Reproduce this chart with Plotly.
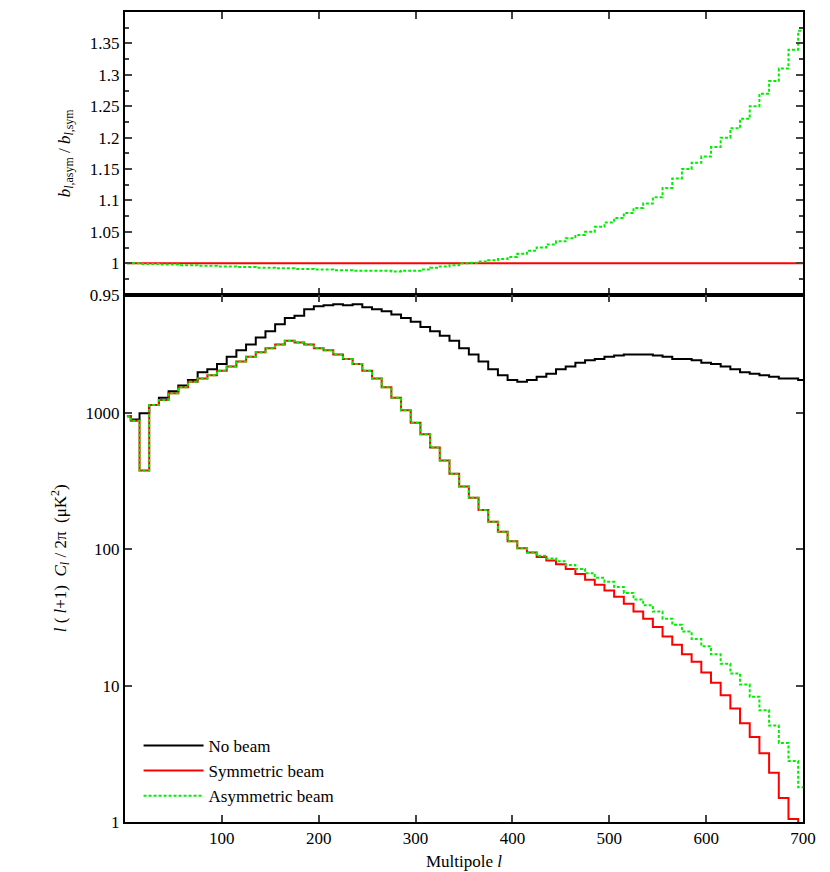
import plotly.graph_objects as go
from plotly.subplots import make_subplots

# multipoles sampled every 10
ell = [2] + list(range(10, 701, 10))

no_beam = [950, 900, 1000, 1150, 1300, 1450, 1600, 1750, 2000, 2100, 2300, 2600, 2900, 3200, 3600,
           4000, 4500, 5000, 5200, 5800, 6100, 6200, 6300, 6200, 6300, 6000, 5800, 5600, 5300, 5000,
           4700, 4300, 4000, 3700, 3400, 3000, 2700, 2400, 2100, 1900, 1750, 1700, 1750, 1850, 1950,
           2100, 2200, 2350, 2450, 2500, 2600, 2650, 2700, 2700, 2700, 2650, 2600, 2500, 2500, 2450,
           2350, 2300, 2200, 2100, 2000, 1950, 1900, 1850, 1800, 1800, 1750]

sym_beam = [950, 880, 380, 1150, 1250, 1400, 1550, 1700, 1800, 1900, 2050, 2200, 2400, 2600, 2800,
            3000, 3200, 3400, 3300, 3200, 3000, 2900, 2700, 2500, 2300, 2050, 1800, 1550, 1300, 1050,
            850, 700, 560, 450, 360, 290, 240, 195, 160, 135, 115, 102, 95, 88, 83,
            78, 72, 66, 60, 55, 50, 45, 40, 35, 31, 27, 23, 20, 17, 15,
            12.5, 10.5, 8.5, 6.8, 5.3, 4.2, 3.2, 2.3, 1.5, 1.05, 0.8]

asym_beam = [950, 880, 380, 1150, 1250, 1400, 1550, 1700, 1800, 1900, 2050, 2200, 2400, 2600, 2800,
             3000, 3200, 3400, 3300, 3200, 3000, 2900, 2700, 2500, 2300, 2050, 1800, 1550, 1300, 1050,
             850, 700, 560, 450, 360, 290, 240, 195, 160, 135, 115, 102, 95, 90, 86,
             82, 77, 72, 67, 62, 58, 53, 48, 43, 39, 35, 31, 28, 25, 22,
             19.5, 17, 14.5, 12.3, 10.2, 8.3, 6.6, 5.1, 3.8, 2.8, 1.8]

ratio = [1.0, 1.0, 0.999, 0.999, 0.998, 0.998, 0.997, 0.997, 0.996, 0.996, 0.995, 0.995, 0.994, 0.994, 0.993,
         0.993, 0.992, 0.992, 0.991, 0.991, 0.99, 0.99, 0.989, 0.989, 0.988, 0.988, 0.988, 0.988, 0.987, 0.988,
         0.988, 0.99, 0.993, 0.995, 0.997, 1.0, 1.001, 1.003, 1.005, 1.007, 1.01, 1.015, 1.02, 1.025, 1.03,
         1.035, 1.04, 1.045, 1.05, 1.058, 1.065, 1.072, 1.08, 1.088, 1.095, 1.105, 1.12, 1.135, 1.15, 1.16,
         1.17, 1.185, 1.2, 1.215, 1.23, 1.25, 1.27, 1.29, 1.31, 1.34, 1.37]
unity = [1.0] * len(ell)

FONT = "Liberation Serif"
FS = 17

fig = make_subplots(rows=2, cols=1, shared_xaxes=True, vertical_spacing=0,
                    row_heights=[0.349, 0.651])

fig.add_trace(go.Scatter(x=ell, y=unity, mode="lines", line=dict(color="#ff0000", width=2),
                         showlegend=False), row=1, col=1)
fig.add_trace(go.Scatter(x=ell, y=ratio, mode="lines", line_shape="hvh",
                         line=dict(color="#00ee00", width=2, dash="3px,2px"),
                         showlegend=False), row=1, col=1)

fig.add_trace(go.Scatter(x=ell, y=no_beam, name="No beam", mode="lines", line_shape="hvh",
                         line=dict(color="black", width=2)), row=2, col=1)
fig.add_trace(go.Scatter(x=ell, y=sym_beam, name="Symmetric beam", mode="lines", line_shape="hvh",
                         line=dict(color="#ff0000", width=2)), row=2, col=1)
fig.add_trace(go.Scatter(x=ell, y=asym_beam, name="Asymmetric beam", mode="lines", line_shape="hvh",
                         line=dict(color="#00ee00", width=2, dash="3px,2px")), row=2, col=1)

axis_style = dict(showline=True, linecolor="black", linewidth=2, mirror="allticks",
                  ticks="inside", ticklen=7, tickwidth=1.5, showgrid=False, zeroline=False,
                  tickfont=dict(family=FONT, size=FS, color="black"))

fig.update_xaxes(range=[0, 700], tickvals=[100, 200, 300, 400, 500, 600, 700], **axis_style)
fig.update_xaxes(title_text="Multipole <i>l</i>", title_font=dict(family=FONT, size=FS),
                 title_standoff=8, row=2, col=1)

top_ticks = [0.95, 1.0, 1.05, 1.1, 1.15, 1.2, 1.25, 1.3, 1.35, 1.4]
top_text = ["0.95", "1", "1.05", "1.1", "1.15", "1.2", "1.25", "1.3", "1.35", "1.4"]
fig.update_yaxes(range=[0.95, 1.4], tickvals=top_ticks, ticktext=top_text,
                 minor=dict(ticks="inside", ticklen=4, dtick=0.025),
                 title_text="<i>b</i><sub><i>l</i>,asym</sub> / <i>b</i><sub><i>l</i>,sym</sub>",
                 title_font=dict(family=FONT, size=FS), row=1, col=1, **axis_style)
fig.update_yaxes(type="log", range=[0, 3.87], tickvals=[1, 10, 100, 1000],
                 ticktext=["1", "10", "100", "1000"],
                 title_text="<i>l</i> ( <i>l</i>+1)  <i>C</i><sub><i>l</i></sub> / 2π  (μK<sup>2</sup>)",
                 title_font=dict(family=FONT, size=FS), row=2, col=1, **axis_style)

fig.update_layout(width=830, height=872, plot_bgcolor="white", paper_bgcolor="white",
                  margin=dict(l=117, r=35, t=2, b=58),
                  font=dict(family=FONT, size=FS, color="black"),
                  legend=dict(x=0.02, y=0.01, xanchor="left", yanchor="bottom",
                              bgcolor="rgba(0,0,0,0)", font=dict(family=FONT, size=FS),
                              tracegroupgap=0, itemwidth=60))

fig.write_html("out.html")
